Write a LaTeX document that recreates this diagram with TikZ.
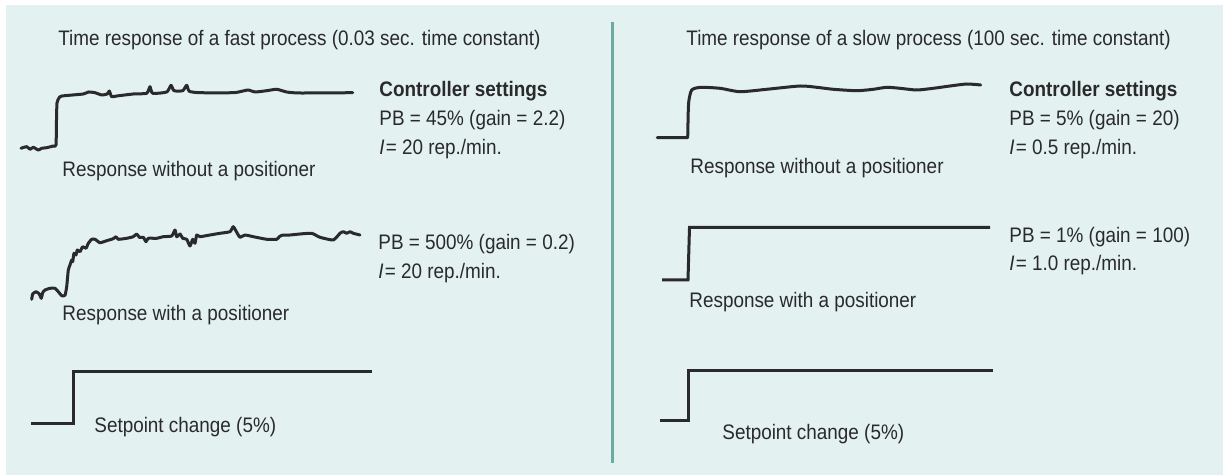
\documentclass[tikz,border=0pt]{standalone}
\usepackage{fontspec}
\setmainfont{Liberation Sans}[FakeStretch=0.9]
\usepackage{tikz}
\definecolor{panel}{HTML}{E3F1F1}
\definecolor{rule}{HTML}{6EAAA4}
\definecolor{ink}{HTML}{2A2A2A}
\newcommand{\ivar}{\textit{I}\kern0.6pt}

\begin{document}
\begin{tikzpicture}[x=0.5pt,y=-0.5pt,baseline=(current bounding box.north),
    every node/.style={inner sep=0pt,text=ink,font=\fontsize{10.5}{12}\selectfont},
    trace/.style={line width=1.5pt,draw=ink,line join=round,line cap=round}]
      \useasboundingbox (0,0) rectangle (1223,475);
      \fill[panel] (6,5) rectangle (1223,475);
      \draw[rule,line width=1.5pt] (612,22) -- (612,463);
      % fast process
      \draw (58,46) node[anchor=base west] (titlefast) {Time response of a fast process (0.03 sec. time constant)};
      \draw[trace] plot[smooth,tension=0.35] coordinates {(21,148.3) (26.7,146.7) (30,149.3) (33.3,147.3) (38.3,150) (41.7,148.3) (46.7,147.7) (53.3,146) (56,145) (56.5,120) (57,103) (59,98) (62,96) (83.3,94) (88.3,92) (95,92.7) (101.7,95) (107.3,94) (109.3,91) (111.7,96.7) (116.7,96) (133.3,94) (146.7,93.3) (150,86.7) (152.7,93.3) (166.7,92) (171,85.3) (174,90.7) (182.7,90.7) (186.7,85.3) (189.3,91.3) (200,92.7) (233.3,92.7) (241.7,91.3) (248.3,90) (255,92) (266.7,90.7) (276.7,89.3) (286.7,92) (300,93) (352.7,92.7)};
      \draw (62,177) node[anchor=base west] (nofast) {Response without a positioner};
      \draw (379,97) node[anchor=base west] (setfast) {\bfseries Controller settings};
      \draw (379,126) node[anchor=base west] (pbfast) {PB = 45\% (gain = 2.2)};
      \draw (379,155) node[anchor=base west] (ifast) {\ivar= 20 rep./min.};
      \draw[trace] plot[smooth,tension=0.3] coordinates {(31.7,299.3) (32.7,294) (36,291.7) (39.3,294) (41.3,298.3) (42.7,292.7) (45,290) (50,288.3) (55,288.3) (58.3,291.7) (61.7,295.7) (65,295.3) (66.7,286.7) (68.3,270) (70,265) (71.7,260) (72.7,261.7) (74,253.3) (76,255) (77.3,250) (80,251.7) (82.7,246.7) (86,248.3) (88.3,243.3) (91.7,239.3) (95,239.3) (100,242.7) (106.7,240.7) (113.3,238.7) (116,236.7) (118.3,239.3) (126.7,238.3) (133.3,236.7) (136.7,234) (139.3,237.3) (143.3,237.3) (146,241.7) (148.3,238.3) (156.7,238.3) (163.3,236.7) (171.7,236) (175,230) (176.7,236.7) (180,234) (182.7,238.3) (186.7,239.3) (190,246) (192.7,239.3) (195,243.3) (196.7,235) (200,236.7) (210,235) (220,233.3) (230,231.7) (233.3,226.7) (237.3,233.3) (240,237.3) (245,235) (253.3,236.7) (266.7,239.3) (276.7,239.3) (279.3,236.7) (281.7,235.3) (290,235) (300,234) (311.7,233.3) (320,237.3) (333.3,240) (340,233.3) (343.3,231.7) (346.7,233.3) (350,231.7) (353.3,233.3) (360,235)};
      \draw (62,321) node[anchor=base west] (withfast) {Response with a positioner};
      \draw (378,250) node[anchor=base west] (pbfastpos) {PB = 500\% (gain = 0.2)};
      \draw (378,279) node[anchor=base west] (ifastpos) {\ivar= 20 rep./min.};
      \draw[trace,line cap=butt,line join=miter] (31,424) -- (73,424) -- (73,372) -- (372,372);
      \draw (94,433) node[anchor=base west] (spfast) {Setpoint change (5\%)};
      % slow process
      \draw (686,46) node[anchor=base west] (titleslow) {Time response of a slow process (100 sec. time constant)};
      \draw[trace] (657.3,137.7) -- plot[smooth,tension=0.4] coordinates {(687.7,137.7) (688.3,110) (689,100) (691.7,90) (700,87.3) (720,88.3) (740,91.7) (766.7,89.3) (800,86) (816.7,87.3) (833.3,89.3) (856.7,90.7) (873.3,89.3) (886.7,87.3) (900,88.3) (916.7,90) (933.3,88.3) (950,86) (966.7,84) (980.7,85)};
      \draw (690,174) node[anchor=base west] (noslow) {Response without a positioner};
      \draw (1009,97) node[anchor=base west] (setslow) {\bfseries Controller settings};
      \draw (1009,126) node[anchor=base west] (pbslow) {PB = 5\% (gain = 20)};
      \draw (1009,155) node[anchor=base west] (islow) {\ivar= 0.5 rep./min.};
      \draw[trace,line cap=butt,line join=miter] (662,280) -- (688,280) -- (689.5,227.5) -- (990,227.5);
      \draw (689,308) node[anchor=base west] (withslow) {Response with a positioner};
      \draw (1009,243) node[anchor=base west] (pbslowpos) {PB = 1\% (gain = 100)};
      \draw (1009,271) node[anchor=base west] (islowpos) {\ivar= 1.0 rep./min.};
      \draw[trace,line cap=butt,line join=miter] (660,421) -- (688,421) -- (688,371) -- (993,371);
      \draw (722,440) node[anchor=base west] (spslow) {Setpoint change (5\%)};
\end{tikzpicture}
\end{document}
